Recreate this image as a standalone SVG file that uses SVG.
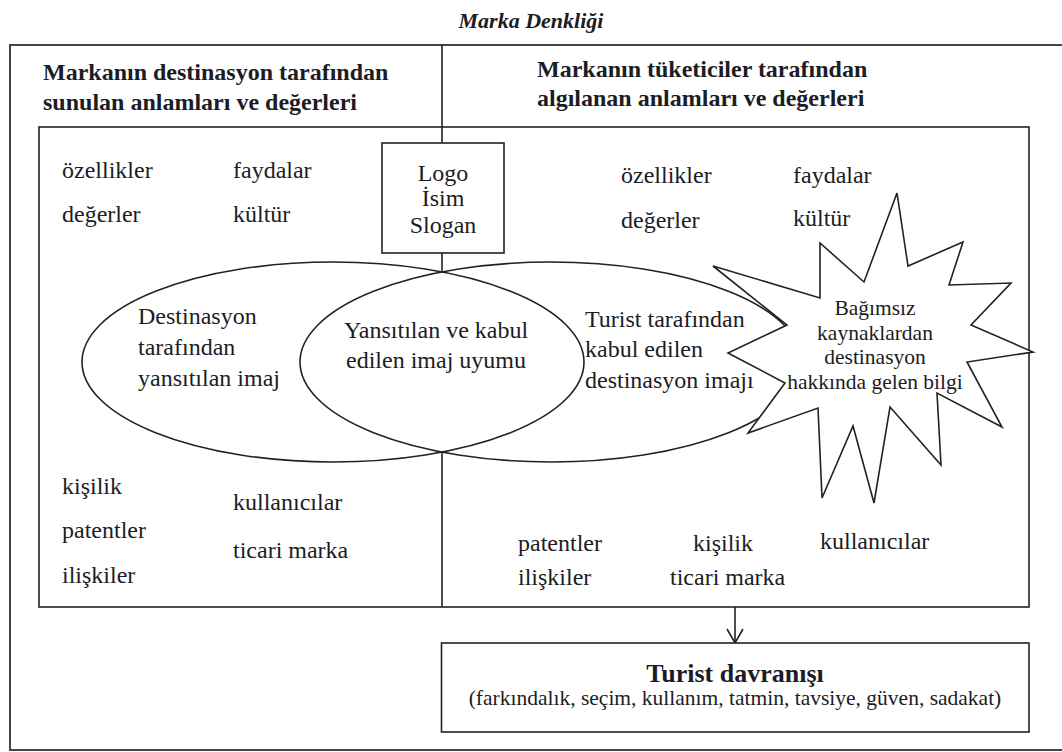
<svg xmlns="http://www.w3.org/2000/svg" width="1062" height="752" viewBox="0 0 1062 752">
<style>
.t{font-family:"Liberation Serif","Times New Roman",serif;fill:#1c1c24;}
.w{font-size:24px;}
.h{font-size:24px;font-weight:bold;}
.c{text-anchor:middle;}
.ln{fill:none;stroke:#222;stroke-width:1.6;}
.wf{fill:#fff;stroke:#222;stroke-width:1.6;}
</style>
<rect width="1062" height="752" fill="#fff"/>
<text id="title" class="t c" x="531" y="28" font-size="22" font-weight="bold" font-style="italic">Marka Denkliği</text>
<g id="outer-frame">
<rect x="10" y="45" width="1070" height="705" fill="none" stroke="#444" stroke-width="2"/>
</g>
<g id="header-left">
<text class="t h" x="43" y="80">Markanın destinasyon tarafından</text>
<text class="t h" x="43" y="110">sunulan anlamları ve değerleri</text>
</g>
<g id="header-right">
<text class="t h" x="537" y="77">Markanın tüketiciler tarafından</text>
<text class="t h" x="537" y="106">algılanan anlamları ve değerleri</text>
</g>
<g id="inner-frame">
<rect x="39" y="127" width="990" height="480" class="ln"/>
</g>
<g id="connectors">
<line x1="442" y1="45" x2="442" y2="143" class="ln"/>
<line x1="442" y1="253" x2="442" y2="272" class="ln"/>
<line x1="442" y1="452" x2="442" y2="607" class="ln"/>
<line x1="735" y1="607" x2="735" y2="642" class="ln"/>
<polyline points="727,629 735,643 743,629" class="ln"/>
</g>
<g id="logo">
<rect x="382" y="143" width="122" height="110" class="wf"/>
<text class="t w c" x="443" y="181">Logo</text>
<text class="t w c" x="443" y="206">İsim</text>
<text class="t w c" x="443" y="233">Slogan</text>
</g>
<g id="left-words">
<text class="t w" x="62" y="178">özellikler</text>
<text class="t w" x="233" y="178">faydalar</text>
<text class="t w" x="62" y="222">değerler</text>
<text class="t w" x="233" y="222">kültür</text>
<text class="t w" x="62" y="494">kişilik</text>
<text class="t w" x="62" y="538">patentler</text>
<text class="t w" x="62" y="583">ilişkiler</text>
<text class="t w" x="233" y="510">kullanıcılar</text>
<text class="t w" x="233" y="558">ticari marka</text>
</g>
<g id="right-words">
<text class="t w" x="621" y="183">özellikler</text>
<text class="t w" x="793" y="183">faydalar</text>
<text class="t w" x="621" y="228">değerler</text>
<text class="t w" x="793" y="226">kültür</text>
<text class="t w" x="518" y="551">patentler</text>
<text class="t w" x="693" y="551">kişilik</text>
<text class="t w" x="820" y="549">kullanıcılar</text>
<text class="t w" x="518" y="585">ilişkiler</text>
<text class="t w" x="670" y="585">ticari marka</text>
</g>
<g id="ellipse-destination">
<ellipse cx="333" cy="362" rx="251" ry="100" class="ln"/>
<text class="t w" x="138" y="324">Destinasyon</text>
<text class="t w" x="138" y="355">tarafından</text>
<text class="t w" x="138" y="386">yansıtılan imaj</text>
</g>
<g id="ellipse-tourist">
<ellipse cx="551" cy="362" rx="251" ry="100" class="ln"/>
<text class="t w" x="585" y="327">Turist tarafından</text>
<text class="t w" x="585" y="357">kabul edilen</text>
<text class="t w" x="585" y="388">destinasyon imajı</text>
</g>
<g id="overlap">
<text class="t w c" x="436" y="338">Yansıtılan ve kabul</text>
<text class="t w c" x="436" y="368">edilen imaj uyumu</text>
</g>
<g id="independent-sources">
<polygon class="wf" points="897,193 908,266 963,242 949,285 1011,283 971,325 1033,352 967,362 1002,427 937,393 941,465 890,407 874,503 853,426 822,498 818,408 748,433 785,383 728,353 787,325 713,266 820,298 820,243 864,282"/>
<text class="t c" font-size="21.5" x="875" y="315">Bağımsız</text>
<text class="t c" font-size="21.5" x="875" y="340">kaynaklardan</text>
<text class="t c" font-size="21.5" x="875" y="364">destinasyon</text>
<text class="t c" font-size="21.5" x="875" y="389">hakkında gelen bilgi</text>
</g>
<g id="tourist-behaviour">
<rect x="441.5" y="643" width="587.5" height="89" class="wf"/>
<text class="t c" x="735" y="682" font-size="26" font-weight="bold">Turist davranışı</text>
<text class="t c" x="735" y="705" font-size="21.5">(farkındalık, seçim, kullanım, tatmin, tavsiye, güven, sadakat)</text>
</g>
</svg>
